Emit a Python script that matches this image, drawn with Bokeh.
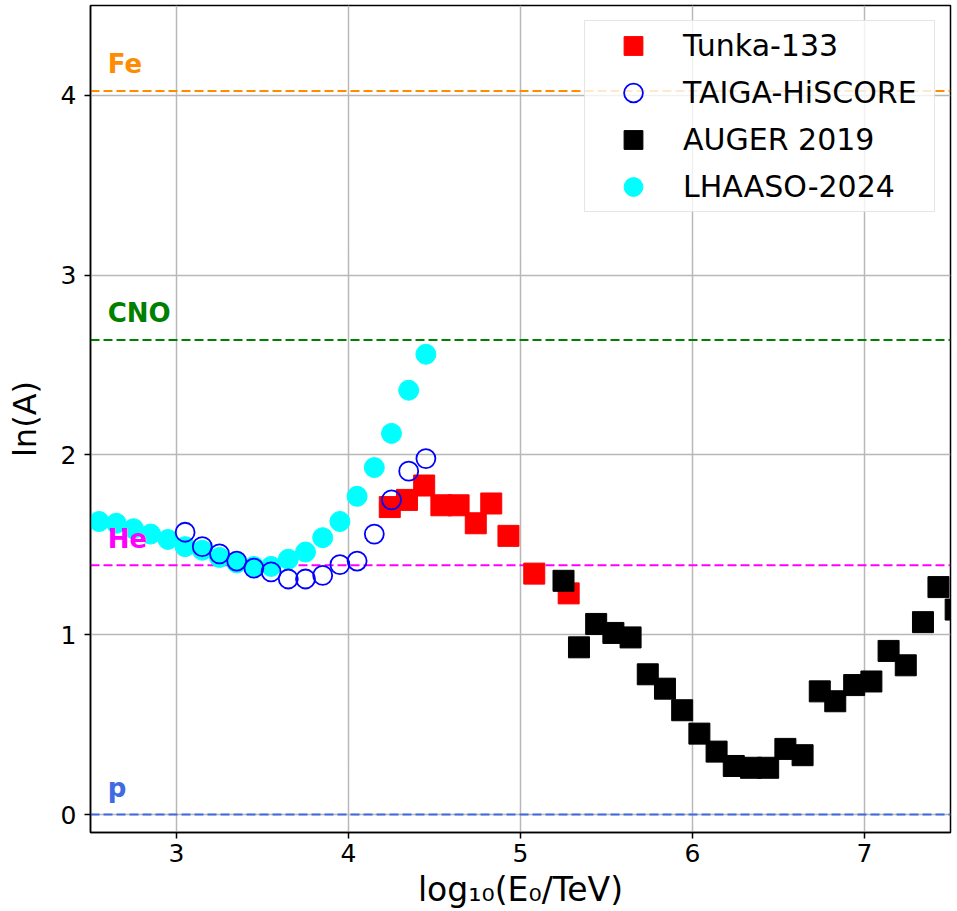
from bokeh.plotting import figure
from bokeh.models import (Span, Legend, LegendItem, FixedTicker, ColumnDataSource,
                          Range1d)
from bokeh.core.properties import value
from bokeh.embed import file_html
from bokeh.resources import INLINE

# ---------------- data ----------------
tunka_x = [4.24, 4.34, 4.44, 4.54, 4.64, 4.74, 4.83, 4.93, 5.08, 5.28]
tunka_y = [1.71, 1.75, 1.83, 1.72, 1.72, 1.62, 1.73, 1.55, 1.34, 1.23]

taiga_x = [3.05, 3.15, 3.25, 3.35, 3.45, 3.55, 3.65, 3.75, 3.85, 3.95,
           4.05, 4.15, 4.25, 4.35, 4.45]
taiga_y = [1.57, 1.49, 1.45, 1.41, 1.37, 1.35, 1.31, 1.31, 1.33, 1.39,
           1.41, 1.56, 1.75, 1.91, 1.98]

auger_x = [5.25, 5.34, 5.44, 5.54, 5.64, 5.74, 5.84, 5.94, 6.04, 6.14,
           6.24, 6.34, 6.44, 6.54, 6.64, 6.74, 6.83, 6.94, 7.04, 7.14,
           7.24, 7.34, 7.43, 7.53]
auger_y = [1.30, 0.93, 1.06, 1.01, 0.985, 0.78, 0.70, 0.58, 0.45, 0.35,
           0.27, 0.26, 0.26, 0.365, 0.33, 0.685, 0.63, 0.72, 0.74, 0.91,
           0.83, 1.07, 1.265, 1.14]

lhaaso_x = [2.55, 2.65, 2.75, 2.85, 2.95, 3.05, 3.15, 3.25, 3.35, 3.45,
            3.55, 3.65, 3.75, 3.85, 3.95, 4.05, 4.15, 4.25, 4.35, 4.45]
lhaaso_y = [1.63, 1.62, 1.59, 1.56, 1.53, 1.49, 1.47, 1.43, 1.40, 1.38,
            1.38, 1.42, 1.46, 1.54, 1.63, 1.77, 1.93, 2.12, 2.36, 2.56]

element_names = ["p", "He", "CNO", "Fe"]
element_lnA = [0.0, 1.386, 2.639, 4.025]
element_colors = ["#4169e1", "#ff00ff", "#008000", "#ff8c00"]

x_ticks = [3, 4, 5, 6, 7]
y_ticks = [0, 1, 2, 3, 4]

FONT = "DejaVu Sans"

# ---------------- figure ----------------
p = figure(width=957, height=911, output_backend="svg", toolbar_location=None,
           x_range=Range1d(2.5, 7.5), y_range=Range1d(-0.1, 4.5))
p.min_border_left = 90
p.min_border_right = 7
p.min_border_top = 5
p.min_border_bottom = 79
p.background_fill_color = "white"
p.border_fill_color = "white"
p.outline_line_color = "black"
p.outline_line_width = 1.5

for g in (p.xgrid, p.ygrid):
    g.grid_line_color = "#b8b8b8"
    g.grid_line_width = 1.5
p.xgrid.ticker = FixedTicker(ticks=x_ticks)
p.ygrid.ticker = FixedTicker(ticks=y_ticks)

p.xaxis.ticker = FixedTicker(ticks=x_ticks)
p.yaxis.ticker = FixedTicker(ticks=y_ticks)
for ax in (p.xaxis, p.yaxis):
    ax.axis_line_color = "black"
    ax.axis_line_width = 1.5
    ax.major_tick_line_color = "black"
    ax.major_tick_line_width = 1.5
    ax.major_tick_out = 6
    ax.major_tick_in = 0
    ax.minor_tick_line_color = None
    ax.major_label_text_font = FONT
    ax.major_label_text_font_size = "25px"
    ax.major_label_text_color = "black"
    ax.axis_label_text_font = FONT
    ax.axis_label_text_font_style = "normal"
    ax.axis_label_text_color = "black"
p.xaxis.axis_label = "log\u2081\u2080(E\u2080/TeV)"
p.yaxis.axis_label = "ln(A)"
p.xaxis.axis_label_text_font_size = "33px"
p.yaxis.axis_label_text_font_size = "32px"
p.xaxis.major_label_standoff = 5
p.xaxis.axis_label_standoff = 5
p.yaxis.major_label_standoff = 8
p.yaxis.axis_label_standoff = 14

# element reference lines
for lnA, col in zip(element_lnA, element_colors):
    p.add_layout(Span(location=lnA, dimension="width", line_color=col,
                      line_width=2, line_dash="9 4", level="underlay"))

# data series
r_tunka = p.scatter(tunka_x, tunka_y, marker="square", size=21,
                    fill_color="#ff0000", line_color="#ff0000")
r_auger = p.scatter(auger_x, auger_y, marker="square", size=21,
                    fill_color="black", line_color="black")
r_lhaaso = p.scatter(lhaaso_x, lhaaso_y, marker="circle", size=20,
                     fill_color="#00ffff", line_color="#00ffff")
r_taiga = p.scatter(taiga_x, taiga_y, marker="circle", size=19,
                    fill_color=None, line_color="#0000ff", line_width=1.8)

# element labels (drawn on top of the markers)
lab_src = ColumnDataSource(dict(
    x=[2.6] * len(element_names),
    y=[v + 0.065 for v in element_lnA],
    text=element_names,
    color=element_colors,
))
p.text(x="x", y="y", text="text", source=lab_src, text_color="color",
       text_font=value(FONT), text_font_style="bold", text_font_size="26px",
       text_align="left", text_baseline="bottom")

legend = Legend(items=[
    LegendItem(label="Tunka-133", renderers=[r_tunka]),
    LegendItem(label="TAIGA-HiSCORE", renderers=[r_taiga]),
    LegendItem(label="AUGER 2019", renderers=[r_auger]),
    LegendItem(label="LHAASO-2024", renderers=[r_lhaaso]),
], location="top_right")
legend.padding = 1
legend.spacing = 0
legend.glyph_height = 47
legend.glyph_width = 94
legend.label_standoff = 3
legend.label_width = 250
legend.label_text_font = FONT
legend.label_text_font_size = "30px"
legend.label_text_color = "black"
legend.margin = 15
legend.border_line_color = "#cccccc"
legend.border_line_width = 1.5
legend.background_fill_color = "white"
legend.background_fill_alpha = 0.8
p.add_layout(legend)

open("out.html", "w").write(file_html(p, INLINE))
